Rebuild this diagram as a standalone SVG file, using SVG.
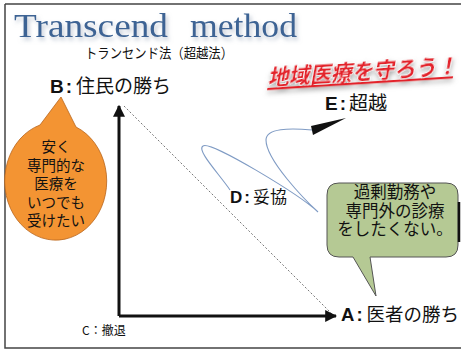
<svg xmlns="http://www.w3.org/2000/svg" width="461" height="352" viewBox="0 0 461 352">
<defs>
<filter id="tshadow" x="-10%" y="-30%" width="120%" height="170%">
<feDropShadow dx="2" dy="3" stdDeviation="2" flood-color="#8a9ab0" flood-opacity="0.55"/>
</filter>
<filter id="rshadow" x="-10%" y="-40%" width="120%" height="200%">
<feDropShadow dx="1" dy="3" stdDeviation="2.5" flood-color="#777" flood-opacity="0.6"/>
</filter>
<marker id="axarrow" viewBox="0 0 10 10" refX="9" refY="5" markerWidth="4" markerHeight="4" orient="auto" markerUnits="strokeWidth">
<path d="M0,0 L10,5 L0,10 Z" fill="#111"/>
</marker>
</defs>
<style>
.frame{stroke:#444;stroke-width:1.5;fill:none}
.jp{font-family:"Noto Sans CJK JP","Noto Sans",sans-serif;fill:#111}
.lat{font-family:"Liberation Sans",Arial,sans-serif;font-weight:bold}
.axis{stroke:#111;stroke-width:3;fill:none;marker-end:url(#axarrow)}
</style>

<g id="frame">
<path class="frame" d="M5,4 H461 M5,4 V348 H461"/>
</g>

<g id="title">
<text x="14" y="37" font-family="'Liberation Serif','Times New Roman',serif" font-size="33" fill="#3d6494" filter="url(#tshadow)"><tspan x="14" textLength="154" lengthAdjust="spacingAndGlyphs">Transcend</tspan><tspan x="190" textLength="107" lengthAdjust="spacingAndGlyphs">method</tspan></text>
<text class="jp" x="85" y="58" font-size="14" textLength="148" lengthAdjust="spacingAndGlyphs">トランセンド法（超越法）</text>
</g>

<g id="slogan" transform="translate(268,85) rotate(-3.6) skewX(-14)" filter="url(#rshadow)">
<text x="0" y="0" font-family="'Noto Sans CJK JP',sans-serif" font-weight="bold" font-size="21" fill="#e3222b" stroke="#fff" stroke-width="1.2" paint-order="stroke" textLength="190" lengthAdjust="spacingAndGlyphs">地域医療を守ろう！</text>
<line x1="0" y1="4" x2="186" y2="4" stroke="#e3222b" stroke-width="2"/>
</g>

<g id="connectors">
<line x1="124" y1="106" x2="332" y2="314" stroke="#555" stroke-width="0.8" stroke-dasharray="2,2"/>
<line class="axis" x1="119" y1="316" x2="119" y2="106"/>
<line class="axis" x1="119" y1="316" x2="336" y2="316"/>
<path d="M230,190 C220,175 196,150 203,146 C210,140 300,195 318,212 C305,200 266,160 266,140 C266,128 290,128 312,130" fill="none" stroke="#7f9bc4" stroke-width="1.1"/>
<path d="M311,126 L346,118 L313,135 Z" fill="#111"/>
</g>

<g id="nodeB">
<text x="50" y="93" font-size="19"><tspan class="lat" fill="#111">B</tspan><tspan class="lat" dx="2" fill="#111">:</tspan><tspan class="jp" dx="4">住民の勝ち</tspan></text>
</g>

<g id="nodeE">
<text x="325" y="110" font-size="19"><tspan class="lat" fill="#111">E</tspan><tspan class="lat" dx="2" fill="#111">:</tspan><tspan class="jp" dx="3">超越</tspan></text>
</g>

<g id="nodeD">
<text x="230" y="203" font-size="17"><tspan class="lat" fill="#111">D</tspan><tspan class="lat" dx="2" fill="#111">:</tspan><tspan class="jp" dx="3">妥協</tspan></text>
</g>

<g id="nodeA">
<text x="341" y="321" font-size="18.5"><tspan class="lat" fill="#111">A</tspan><tspan class="lat" dx="2" fill="#111">:</tspan><tspan class="jp" dx="4">医者の勝ち</tspan></text>
</g>

<g id="nodeC">
<text class="jp" x="82" y="335" font-size="12">C：撤退</text>
</g>

<g id="residents-bubble">
<path d="M40,125 L61,97 L76,127 A51,59 0 1 1 40,125 Z" fill="#f39433" stroke="#b8651c" stroke-width="0.8"/>
<text class="jp" font-size="14.5" text-anchor="middle"><tspan x="56" y="152">安く</tspan><tspan x="56" y="170.5">専門的な</tspan><tspan x="56" y="189">医療を</tspan><tspan x="56" y="207.5">いつでも</tspan><tspan x="56" y="226">受けたい</tspan></text>
</g>

<g id="doctors-bubble">
<path d="M339,183 H446 Q458,183 458,195 V245 Q458,257 446,257 H370 L376,296 L353,257 H339 Q327,257 327,245 V195 Q327,183 339,183 Z" fill="#b5c994" stroke="#555" stroke-width="1"/>
<text class="jp" font-size="16.5" text-anchor="middle"><tspan x="395" y="198">過剰勤務や</tspan><tspan x="395" y="216.5">専門外の診療</tspan><tspan x="395" y="235">をしたくない。</tspan></text>
</g>

<g id="edge-mark">
<line x1="459" y1="202" x2="459" y2="242" stroke="#111" stroke-width="2.5"/>
</g>
</svg>
